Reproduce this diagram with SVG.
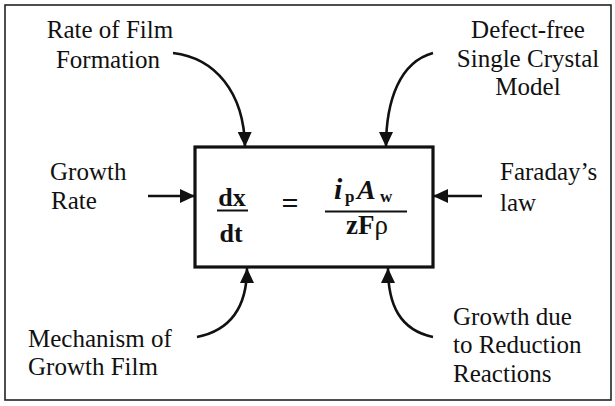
<svg xmlns="http://www.w3.org/2000/svg" width="615" height="406" viewBox="0 0 615 406">
<defs>
<style>
.lbl{font-size:25px;fill:#111}
.eq{font-weight:bold;fill:#111}
.con{fill:none;stroke:#111;stroke-width:2.6}
</style>
<marker id="ah" markerUnits="userSpaceOnUse" markerWidth="16" markerHeight="14" refX="15" refY="7" orient="auto">
<path d="M0,0 L15,7 L0,14 Z" fill="#111"/>
</marker>
</defs>
<rect width="615" height="406" fill="#fff"/>
<rect x="5" y="5" width="606" height="395" fill="none" stroke="#222" stroke-width="1.6"/>

<g id="equation">
<rect x="195" y="147" width="238" height="120" fill="#fff" stroke="#111" stroke-width="3.2"/>
<text class="eq" x="232" y="206" font-size="26" text-anchor="middle" style="font-family:'Liberation Serif',serif">dx</text>
<line x1="217" y1="210.5" x2="248" y2="210.5" stroke="#111" stroke-width="2"/>
<text class="eq" x="231" y="242" font-size="26" text-anchor="middle" style="font-family:'Liberation Serif',serif">dt</text>
<text class="eq" x="290" y="213" font-size="30" text-anchor="middle" style="font-family:'Liberation Serif',serif">=</text>
<text class="eq" x="334" y="199" font-size="30" font-style="italic" style="font-family:'Liberation Serif',serif">i</text>
<text class="eq" x="345" y="202" font-size="17" style="font-family:'Liberation Serif',serif">p</text>
<text class="eq" x="357" y="199" font-size="28" font-style="italic" style="font-family:'Liberation Serif',serif">A</text>
<text class="eq" x="380" y="202" font-size="17" style="font-family:'Liberation Serif',serif">w</text>
<line x1="325" y1="211.5" x2="407" y2="211.5" stroke="#111" stroke-width="2"/>
<text class="eq" x="367" y="234" font-size="27" text-anchor="middle" style="font-family:'Liberation Serif',serif">zF<tspan font-weight="normal">ρ</tspan></text>
</g>

<g id="rate-film-formation">
<text class="lbl" x="110" y="38" text-anchor="middle" style="font-family:'Liberation Serif',serif">Rate of Film</text>
<text class="lbl" x="108" y="68" text-anchor="middle" style="font-family:'Liberation Serif',serif">Formation</text>
</g>
<g id="defect-free">
<text class="lbl" x="528" y="38" text-anchor="middle" style="font-family:'Liberation Serif',serif">Defect-free</text>
<text class="lbl" x="528" y="67" text-anchor="middle" style="font-family:'Liberation Serif',serif">Single Crystal</text>
<text class="lbl" x="528" y="95" text-anchor="middle" style="font-family:'Liberation Serif',serif">Model</text>
</g>
<g id="growth-rate">
<text class="lbl" x="50" y="180" style="font-family:'Liberation Serif',serif">Growth</text>
<text class="lbl" x="51" y="209" style="font-family:'Liberation Serif',serif">Rate</text>
</g>
<g id="faraday">
<text class="lbl" x="500" y="180" style="font-family:'Liberation Serif',serif">Faraday’s</text>
<text class="lbl" x="500" y="211" style="font-family:'Liberation Serif',serif">law</text>
</g>
<g id="mechanism">
<text class="lbl" x="28" y="347" style="font-family:'Liberation Serif',serif">Mechanism of</text>
<text class="lbl" x="28" y="375" style="font-family:'Liberation Serif',serif">Growth Film</text>
</g>
<g id="reduction">
<text class="lbl" x="453" y="325" style="font-family:'Liberation Serif',serif">Growth due</text>
<text class="lbl" x="453" y="353" style="font-family:'Liberation Serif',serif">to Reduction</text>
<text class="lbl" x="453" y="382" style="font-family:'Liberation Serif',serif">Reactions</text>
</g>

<g id="connectors">
<path class="con" d="M173,53 C215,58 244,92 245,147" marker-end="url(#ah)"/>
<path class="con" d="M433,53 C400,62 386,100 386,147" marker-end="url(#ah)"/>
<path class="con" d="M148,196 L195,196" marker-end="url(#ah)"/>
<path class="con" d="M482,196 L433,196" marker-end="url(#ah)"/>
<path class="con" d="M197,337 C232,330 247,305 247,268" marker-end="url(#ah)"/>
<path class="con" d="M433,337 C400,330 388,305 388,268" marker-end="url(#ah)"/>
</g>
</svg>
